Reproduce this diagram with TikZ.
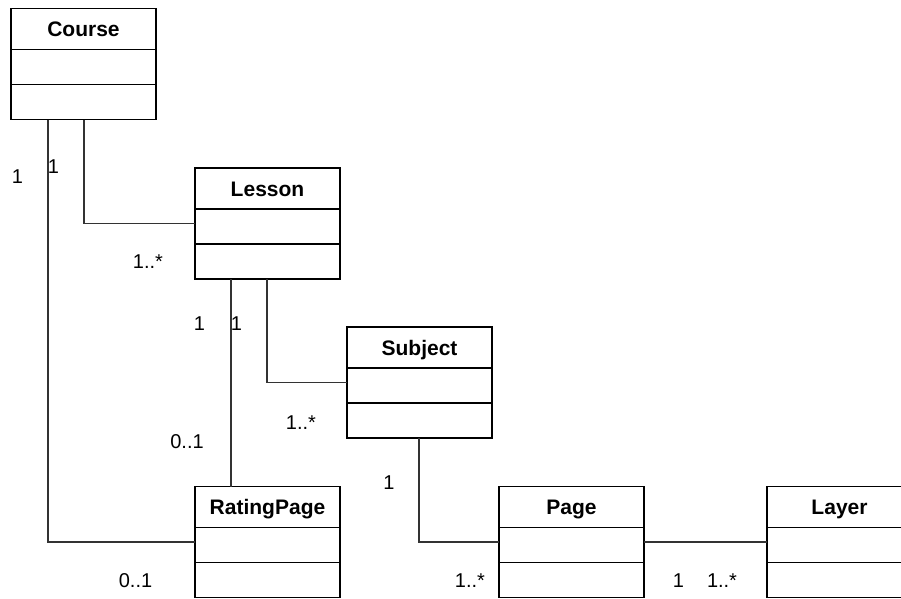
\documentclass[tikz,border=0pt]{standalone}
\usepackage{fontspec}
\setmainfont{Liberation Sans}
\begin{document}
\begin{tikzpicture}[x=1pt,y=-1pt,
  classbox/.style={draw=black,line width=1.5pt,fill=white,minimum width=145pt,minimum height=111pt,anchor=north west,inner sep=0pt,outer sep=0pt},
  classname/.style={font=\fontsize{21}{24}\selectfont\bfseries,anchor=base,inner sep=0pt},
  divider/.style={line width=1.5pt,black},
  assoc/.style={line width=1.1pt,black!80},
  mult/.style={font=\fontsize{20}{24}\selectfont,anchor=base,inner sep=0pt}]
\clip (0,0) rectangle (901,598);

% class boxes
\node[classbox] (course) at (11,8.5) {};
\node[classbox] (lesson) at (195,168) {};
\node[classbox] (subject) at (347,327) {};
\node[classbox] (rating) at (195,486.5) {};
\node[classbox] (page) at (499,486.5) {};
\node[classbox] (layer) at (767,486.5) {};

% class names and compartment dividers
\foreach \c/\t in {course/Course,lesson/Lesson,subject/Subject,rating/RatingPage,page/Page,layer/Layer}{
  \node[classname] (\c-name) at ([yshift=-28pt]\c.north) {\t};
  \draw[divider] ([yshift=-41pt]\c.north west) -- ([yshift=-41pt]\c.north east);
  \draw[divider] ([yshift=-76pt]\c.north west) -- ([yshift=-76pt]\c.north east);
}

% associations
\draw[assoc] ([xshift=73pt]course.south west) |- (lesson.west);
\draw[assoc] ([xshift=37pt]course.south west) |- (rating.west);
\draw[assoc] ([xshift=36pt]lesson.south west) -- ([xshift=36pt]rating.north west);
\draw[assoc] ([xshift=72pt]lesson.south west) |- (subject.west);
\draw[assoc] ([xshift=72pt]subject.south west) |- (page.west);
\draw[assoc] (page.east) -- (layer.west);

% multiplicities
\node[mult] (m1) at (17.5,183) {1};
\node[mult] (m2) at (53.5,173) {1};
\node[mult] (m3) at (148,268) {1..*};
\node[mult] (m4) at (199.5,330) {1};
\node[mult] (m5) at (236.5,330) {1};
\node[mult] (m6) at (187,448) {0..1};
\node[mult] (m7) at (301,429) {1..*};
\node[mult] (m8) at (389,489) {1};
\node[mult] (m9) at (135.5,587) {0..1};
\node[mult] (m10) at (470,587) {1..*};
\node[mult] (m11) at (678.5,587) {1};
\node[mult] (m12) at (722,587) {1..*};
\end{tikzpicture}
\end{document}
